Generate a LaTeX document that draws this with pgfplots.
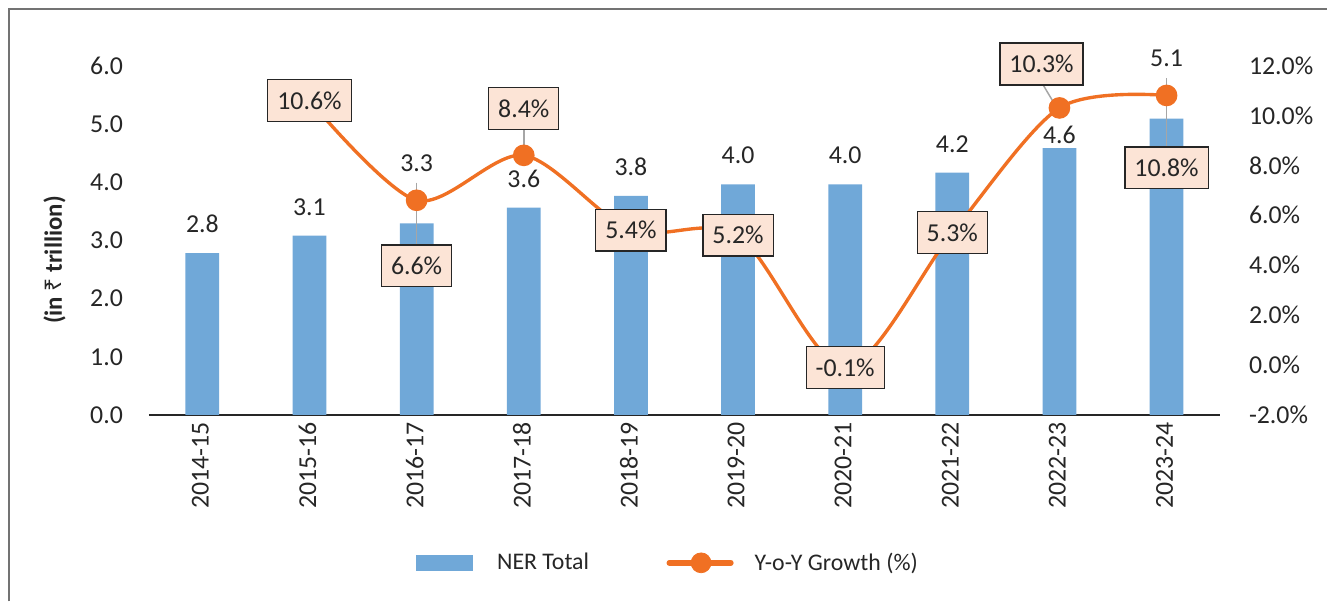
\documentclass[border=0pt]{standalone}
\usepackage{fontspec}
\setmainfont{Carlito}
\newfontfamily\rupee{Noto Sans}
\usepackage{pgfplots}
\usepackage{pgfplotstable}
\pgfplotsset{compat=1.18}

\definecolor{barblue}{RGB}{112,168,216}
\definecolor{lineorange}{RGB}{240,112,35}
\definecolor{lblfill}{RGB}{252,228,214}
\definecolor{leadgray}{RGB}{166,166,166}
\definecolor{txt}{RGB}{38,38,38}

% NER total, in trillion; lbl = printed value; dy = label offset above bar top (pt)
\pgfplotstableread{
x y lbl dy
0 2.78 2.8 14.5
1 3.08 3.1 14.5
2 3.29 3.3 30.5
3 3.56 3.6 14.5
4 3.76 3.8 14.5
5 3.96 4.0 14.5
6 3.96 4.0 14.5
7 4.16 4.2 14.5
8 4.58 4.6 6.5
9 5.09 5.1 30.5
}\nertable

% year-on-year growth (%), label offsets in pt
\pgfplotstableread{
x y dx dy lw
1 10.6 0 0 0.6
2 6.6 0 -33 0.6
3 8.4 0 23.5 0.6
4 5.4 0 0 0.6
5 5.2 0 0 0.6
6 -0.1 0 0 0.6
7 5.3 0 0 0.6
8 10.3 -9 22 1.1
9 10.8 0 -36.5 0.6
}\growtable

\newcommand\lblfont{\fontsize{13}{15.5}\selectfont}

\pgfplotsset{
  base/.style={
    scale only axis, width=539.5pt, height=176pt,
    xmin=-0.5, xmax=9.5, clip=false,
    major tick length=0pt,
    tick label style={font=\lblfont, text=txt},
    /pgf/number format/assume math mode=true,
  }
}

\begin{document}
\begin{tikzpicture}
\begin{axis}[base,
  ymin=0, ymax=6, ytick={0,1,...,6},
  yticklabel={\pgfmathprintnumber[fixed,fixed zerofill,precision=1]{\tick}},
  yticklabel style={xshift=-9.5pt},
  xtick={0,...,9},
  xticklabels={2014-15,2015-16,2016-17,2017-18,2018-19,2019-20,2020-21,2021-22,2022-23,2023-24},
  xticklabel style={rotate=90, anchor=east, yshift=1pt},
  axis y line*=left, axis x line*=bottom,
  y axis line style={draw=none},
  x axis line style={-, black!85, line width=0.8pt},
]
  \addplot[ybar, bar width=17pt, fill=barblue, draw=none,
    point meta=explicit symbolic,
    nodes near coords,
    visualization depends on={\thisrow{dy} \as \dy},
    every node near coord/.append style={anchor=center, yshift=\dy pt,
      font=\lblfont, text=txt},
  ] table[x=x, y=y, meta=lbl] {\nertable};

  % leader lines
  \draw[leadgray, line width=0.75pt] (axis cs:2,3.99) -- (axis cs:2,2.915);
  \draw[leadgray, line width=0.75pt] (axis cs:3,4.91) -- (axis cs:3,4.57);
  \draw[leadgray, line width=0.75pt] (axis cs:7.85,5.66) -- (axis cs:7.944,5.37);
  \draw[leadgray, line width=0.75pt] (axis cs:9,5.78) -- (axis cs:9,4.60);

  \node[rotate=90, font=\bfseries\fontsize{12.5}{15}\selectfont, text=txt]
    at (axis cs:-1.38,2.66) {(in {\rupee\bfseries\fontsize{11.5}{14}\selectfont ₹} trillion)};

  % outer frame and page size
  \draw[black!55, line width=0.75pt] (axis cs:-1.8056,-3.2) -- (axis cs:-1.8056,6.971) -- (axis cs:10.5,6.971);
  \path (axis cs:-1.8889,7.1246) rectangle (axis cs:10.4074,-3.102);
\end{axis}

\begin{axis}[base,
  ymin=-2, ymax=12, ytick={-2,0,...,12},
  yticklabel={\pgfmathprintnumber[fixed,fixed zerofill,precision=1]{\tick}\%},
  yticklabel style={xshift=11pt},
  axis y line*=right, axis x line=none,
  y axis line style={draw=none},
  legend style={at={(rel axis cs:0.4856,-0.423)}, anchor=center, draw=none, fill=none,
    legend columns=2, font=\fontsize{12}{14}\selectfont, text=txt,
    /tikz/every even column/.append style={column sep=37pt}},
  legend cell align=left,
]
  \addlegendimage{legend image code/.code={
    \fill[barblue] (0pt,-3.75pt) rectangle (28pt,3.75pt);
    \path[draw=none] (0pt,0pt) -- (38.5pt,0pt);}}
  \addlegendentry{NER Total}
  \addlegendimage{legend image code/.code={
    \draw[lineorange, line width=2.8pt, line cap=round] (0pt,0pt) -- (31pt,0pt);
    \fill[lineorange] (16pt,0pt) circle (5pt);
    \path[draw=none] (0pt,0pt) -- (41pt,0pt);}}
  \addlegendentry{Y-o-Y Growth (\%)}

  \addplot[forget plot, lineorange, line width=1.7pt, smooth,
    mark=*, mark size=4.6pt, mark options={fill=lineorange, draw=lineorange},
    point meta=explicit,
    nodes near coords={\pgfmathprintnumber[fixed,fixed zerofill,precision=1]{\pgfplotspointmeta}\%},
    visualization depends on={\thisrow{dx} \as \dx},
    visualization depends on={\thisrow{dy} \as \dy},
    visualization depends on={\thisrow{lw} \as \lw},
    every node near coord/.append style={anchor=center, xshift=\dx pt, yshift=\dy pt,
      draw=black!85, line width=\lw pt, fill=lblfill, inner xsep=4.8pt, minimum height=21pt,
      font=\lblfont, text=txt},
  ] table[x=x, y=y, meta=y] {\growtable};
\end{axis}
\end{tikzpicture}
\end{document}
